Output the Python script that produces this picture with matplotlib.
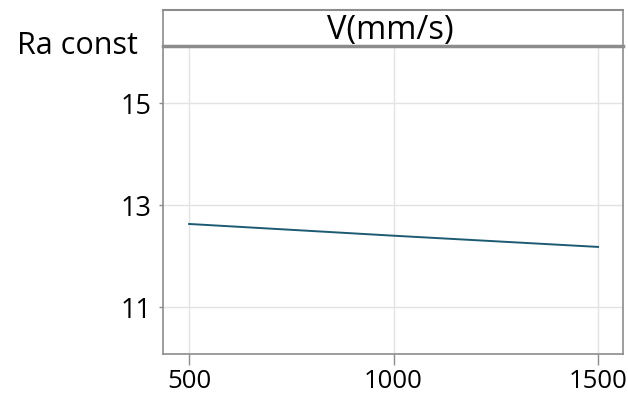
import matplotlib.pyplot as plt
import numpy as np

plt.rcParams['font.family'] = ['Open Sans', 'DejaVu Sans']

# Data
speed = [500, 1000, 1500]
ra_mean = [12.63, 12.40, 12.18]

x_ticks = [500, 1000, 1500]
y_ticks = [11, 13, 15]

strip_label = 'V(mm/s)'
row_label = 'Ra const'

line_color = '#1c5a73'
frame_color = '#8c8c8c'
grid_color = '#e3e3e3'

fig = plt.figure(figsize=(6.28, 3.99), dpi=100)
W, H = 628.0, 399.0
left, right, bottom, top = 163, 623, 354, 46
ax = fig.add_axes([left / W, 1 - bottom / H, (right - left) / W, (bottom - top) / H])

ax.plot(speed, ra_mean, color=line_color, lw=1.4)

ax.set_xlim(436, 1561)
ax.set_ylim(10.08, 16.12)
ax.set_xticks(x_ticks)
ax.set_yticks(y_ticks)
ax.tick_params(axis='x', length=8, width=1, color=frame_color, labelsize=18.5, pad=3)
ax.tick_params(axis='y', length=3, width=1, color=frame_color, labelsize=19.5, pad=5)
ax.grid(True, color=grid_color, lw=1)
ax.set_axisbelow(True)
for s in ax.spines.values():
  s.set_color(frame_color)
  s.set_linewidth(1.2)
ax.spines['top'].set_linewidth(2.5)

# Strip header above the panel
strip_top = 1 - 10 / H
strip_bot = 1 - top / H
fig.add_artist(plt.Line2D([left / W, right / W], [strip_top, strip_top],
                          color=frame_color, lw=1.5))
fig.add_artist(plt.Line2D([left / W, left / W], [strip_bot, strip_top],
                          color=frame_color, lw=1.2))
fig.add_artist(plt.Line2D([right / W, right / W], [strip_bot, strip_top],
                          color=frame_color, lw=1.2))
fig.text(390 / W, 1 - 31 / H, strip_label, ha='center', va='center',
         fontsize=23.5)
fig.text(17 / W, 1 - 46 / H, row_label, ha='left', va='center', fontsize=22)

plt.savefig('out.png', dpi=100)
